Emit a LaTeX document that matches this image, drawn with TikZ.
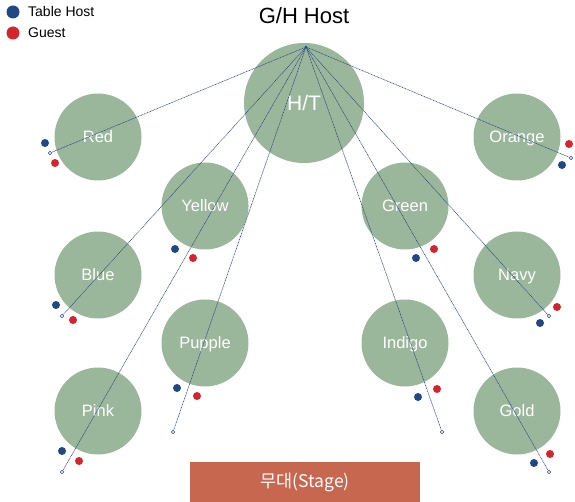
\documentclass[tikz,border=0pt]{standalone}
\usepackage{fontspec}
\setmainfont{Liberation Sans}
\newfontfamily\krfont{Noto Sans CJK KR}
\usetikzlibrary{positioning}
\definecolor{sage}{RGB}{155,183,155}
\definecolor{hostblue}{RGB}{31,72,132}
\definecolor{guestred}{RGB}{212,36,46}
\definecolor{linkblue}{RGB}{40,70,130}
\definecolor{stagebrown}{RGB}{200,103,79}
\tikzset
{
    tablenode/.style = {circle, fill=sage, text=white, inner sep=0pt, minimum size=87pt, text height=11.6pt, text depth=0pt, font=\fontsize{16.5}{18}\selectfont},
    headnode/.style  = {circle, fill=sage, text=white, inner sep=0pt, minimum size=120pt, text height=15pt, text depth=0pt, font=\fontsize{21}{24}\selectfont},
    hostdot/.style   = {circle, fill=hostblue, inner sep=0pt, minimum size=8pt},
    guestdot/.style  = {circle, fill=guestred, inner sep=0pt, minimum size=8pt},
    seatend/.style   = {circle, draw=linkblue, fill=white, line width=0.5pt, inner sep=0pt, minimum size=3.5pt},
    seatlink/.style  = {draw=linkblue, line width=0.55pt, dash pattern=on 1pt off 0.6pt}
}

\begin{document}
\begin{tikzpicture}[x=1pt, y=-1pt]
\useasboundingbox (0,0) rectangle (575,502);

% legend
\node[hostdot, minimum size=13pt] (legendhost) at (13,12) {};
\node[guestdot, minimum size=13pt] (legendguest) at (13,33) {};
\node[anchor=west, font=\fontsize{14}{16}\selectfont, inner sep=0pt] (legendhosttext) at (28,12) {Table Host};
\node[anchor=west, font=\fontsize{14}{16}\selectfont, inner sep=0pt] (legendguesttext) at (28,33) {Guest};

% title and head table
\node[font=\fontsize{22}{26}\selectfont] (title) at (304,16) {G/H Host};
\node[headnode] (ht) at (304,103) {H/T};

% tables
\node[tablenode] (red)    at (98,137)  {Red};
\node[tablenode] (orange) at (517,137) {Orange};
\node[tablenode] (yellow) at (205,206) {Yellow};
\node[tablenode] (green)  at (405,206) {Green};
\node[tablenode] (blue)   at (98,275)  {Blue};
\node[tablenode] (navy)   at (517,275) {Navy};
\node[tablenode] (pupple) at (205,343) {Pupple};
\node[tablenode] (indigo) at (405,343) {Indigo};
\node[tablenode] (pink)   at (98,411)  {Pink};
\node[tablenode] (gold)   at (517,411) {Gold};

% stage
\node[fill=stagebrown, text=white, minimum width=230pt, minimum height=40pt, inner sep=0pt, font=\krfont\fontsize{17.5}{20}\selectfont] (stage) at (305,482) {무대(Stage)};

% host and guest seats
\node[hostdot]  (redhost)     at (45,143)  {};
\node[guestdot] (redguest)    at (55,163)  {};
\node[guestdot] (orangeguest) at (569,144) {};
\node[hostdot]  (orangehost)  at (562,165) {};
\node[hostdot]  (yellowhost)  at (175,249) {};
\node[guestdot] (yellowguest) at (193,258) {};
\node[hostdot]  (greenhost)   at (416,258) {};
\node[guestdot] (greenguest)  at (434,249) {};
\node[hostdot]  (bluehost)    at (56,305)  {};
\node[guestdot] (blueguest)   at (73,320)  {};
\node[guestdot] (navyguest)   at (557,307) {};
\node[hostdot]  (navyhost)    at (540,323) {};
\node[hostdot]  (pupplehost)  at (177,388) {};
\node[guestdot] (puppleguest) at (197,396) {};
\node[hostdot]  (indigohost)  at (418,397) {};
\node[guestdot] (indigoguest) at (437,389) {};
\node[hostdot]  (pinkhost)    at (62,451)  {};
\node[guestdot] (pinkguest)   at (79,461)  {};
\node[guestdot] (goldguest)   at (550,454) {};
\node[hostdot]  (goldhost)    at (534,463) {};

% links from the head table
\coordinate (hub) at (306,47);
\node[seatend] (redend)    at (50,153)  {};
\node[seatend] (orangeend) at (571,158) {};
\node[seatend] (blueend)   at (62,316)  {};
\node[seatend] (navyend)   at (549,316) {};
\node[seatend] (puppleend) at (173,432) {};
\node[seatend] (indigoend) at (442,432) {};
\node[seatend] (pinkend)   at (62,472)  {};
\node[seatend] (goldend)   at (549,472) {};
\draw[seatlink] (hub) -- (redend);
\draw[seatlink] (hub) -- (orangeend);
\draw[seatlink] (hub) -- (blueend);
\draw[seatlink] (hub) -- (navyend);
\draw[seatlink] (hub) -- (puppleend);
\draw[seatlink] (hub) -- (indigoend);
\draw[seatlink] (hub) -- (pinkend);
\draw[seatlink] (hub) -- (goldend);
\fill[linkblue] (hub) circle (1.3pt);
\end{tikzpicture}
\end{document}
